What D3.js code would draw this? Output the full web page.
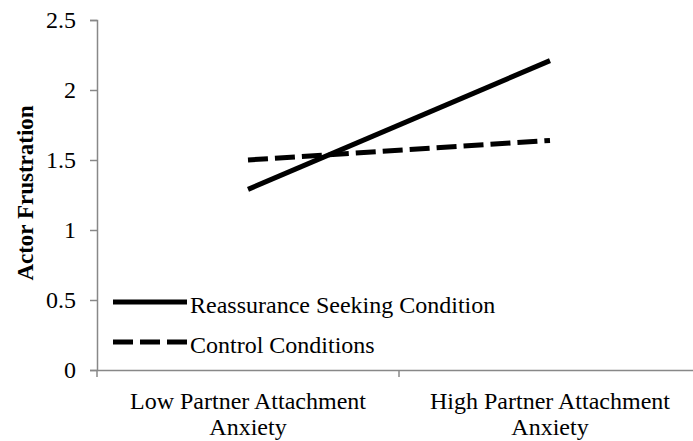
<!DOCTYPE html>
<html>
<head>
<meta charset="utf-8">
<script src="https://cdn.jsdelivr.net/npm/d3@7"></script>
<style>
  body { margin: 0; background: #fff; }
  svg text { font-family: "Liberation Serif", "Times New Roman", serif; fill: #000; }
</style>
</head>
<body>
<svg id="chart" width="693" height="441"></svg>
<script>
// Chart data
var categories = ['Low Partner Attachment|Anxiety', 'High Partner Attachment|Anxiety'];
var reassurance = [1.29, 2.21];
var control = [1.50, 1.64];
var yTicks = [0, 0.5, 1, 1.5, 2, 2.5];
var seriesNames = ['Reassurance Seeking Condition', 'Control Conditions'];

(function () {
  var svg = d3.select('#chart'),
      plotLeft = 97, plotRight = 701, plotTop = 20, plotBottom = 370,
      fontSize = '24px',
      serif = '"Liberation Serif", "Times New Roman", serif';

  var x = d3.scaleBand().domain(categories).range([plotLeft, plotRight]);
  var y = d3.scaleLinear().domain([0, 2.5]).range([plotBottom, plotTop]);

  // y axis
  var yAxis = svg.append('g')
    .attr('transform', 'translate(' + plotLeft + ',0)')
    .call(d3.axisLeft(y).tickValues(yTicks).tickSize(7).tickPadding(14)
      .tickFormat(function(d) { return String(d); }));
  yAxis.attr('font-family', serif).attr('font-size', fontSize);
  yAxis.select('.domain').attr('stroke', '#888').attr('stroke-width', 1.5);
  yAxis.selectAll('.tick line').attr('stroke', '#888').attr('stroke-width', 1.5);
  yAxis.selectAll('.tick text').attr('fill', '#000');

  // x axis
  var xAxis = svg.append('g')
    .attr('transform', 'translate(0,' + plotBottom + ')')
    .call(d3.axisBottom(x).tickSize(0).tickFormat(''));
  xAxis.select('.domain').attr('stroke', '#888').attr('stroke-width', 1.5);

  // boundary ticks between categories
  var bounds = [plotLeft, x(categories[1])];
  svg.selectAll('.xtick').data(bounds).enter().append('line')
    .attr('class', 'xtick')
    .attr('x1', function(d) { return d; }).attr('x2', function(d) { return d; })
    .attr('y1', plotBottom).attr('y2', plotBottom + 7)
    .attr('stroke', '#888').attr('stroke-width', 1.5);

  // category labels
  categories.forEach(function(c) {
    var cx = x(c) + x.bandwidth() / 2;
    var t = svg.append('text')
      .attr('x', cx)
      .attr('y', 409)
      .attr('text-anchor', 'middle')
      .style('font-size', fontSize);
    c.split('|').forEach(function(l, i) {
      t.append('tspan').attr('x', cx).attr('dy', i === 0 ? 0 : 26).text(l);
    });
  });

  // y title
  svg.append('text')
    .attr('transform', 'translate(33,' + ((plotTop + plotBottom) / 2 - 2) + ') rotate(-90)')
    .attr('text-anchor', 'middle')
    .style('font-size', '23px')
    .style('font-weight', 'bold')
    .text('Actor Frustration');

  // lines
  var line = d3.line()
    .x(function(d, i) { return x(categories[i]) + x.bandwidth() / 2; })
    .y(function(d) { return y(d); });

  svg.append('path')
    .datum(reassurance)
    .attr('d', line)
    .attr('fill', 'none')
    .attr('stroke', '#000')
    .attr('stroke-width', 5);

  svg.append('path')
    .datum(control)
    .attr('d', line)
    .attr('fill', 'none')
    .attr('stroke', '#000')
    .attr('stroke-width', 5)
    .attr('stroke-dasharray', '20,7');

  // legend
  var legend = svg.append('g');
  seriesNames.forEach(function(name, i) {
    var ly = 302 + i * 40;
    legend.append('line')
      .attr('x1', 113).attr('x2', 187)
      .attr('y1', ly).attr('y2', ly)
      .attr('stroke', '#000').attr('stroke-width', 5)
      .attr('stroke-dasharray', i === 1 ? '20,7' : null);
    legend.append('text')
      .attr('x', 190).attr('y', ly + 11)
      .style('font-size', fontSize)
      .text(name);
  });
}());
</script>
</body>
</html>
